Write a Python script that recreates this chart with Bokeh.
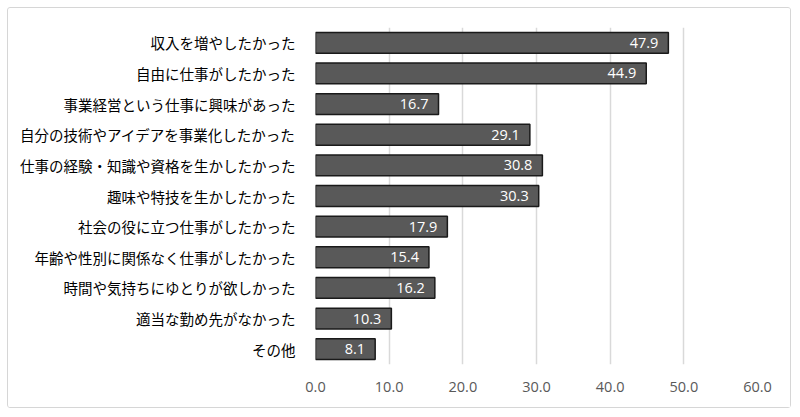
from bokeh.plotting import figure
from bokeh.models import ColumnDataSource, FactorRange, Range1d, FixedTicker, LabelSet, CustomJSTickFormatter
from bokeh.embed import file_html
from bokeh.resources import INLINE
from bokeh.core.properties import value

categories = [
    "収入を増やしたかった",
    "自由に仕事がしたかった",
    "事業経営という仕事に興味があった",
    "自分の技術やアイデアを事業化したかった",
    "仕事の経験・知識や資格を生かしたかった",
    "趣味や特技を生かしたかった",
    "社会の役に立つ仕事がしたかった",
    "年齢や性別に関係なく仕事がしたかった",
    "時間や気持ちにゆとりが欲しかった",
    "適当な勤め先がなかった",
    "その他",
]
values = [47.9, 44.9, 16.7, 29.1, 30.8, 30.3, 17.9, 15.4, 16.2, 10.3, 8.1]
x_ticks = [0, 10, 20, 30, 40, 50, 60]

source = ColumnDataSource(dict(
    cat=categories,
    val=values,
    lab=[f"{v:.1f}" for v in values],
))

p = figure(
    width=784, height=401,
    y_range=FactorRange(*list(reversed(categories))),
    x_range=Range1d(0, 60),
    output_backend="svg", toolbar_location=None,
    min_border_left=307, min_border_right=35,
    min_border_top=19, min_border_bottom=45,
    styles={"margin": "7px 0 0 7px", "border": "1px solid #d6d6d6", "border-radius": "3px"},
)
p.outline_line_color = None

p.hbar(y="cat", right="val", left=0, height=0.68, source=source,
       fill_color="#595959", line_color="#1a1a1a", line_width=1.5)

labels = LabelSet(x="val", y="cat", text="lab", source=source,
                  x_offset=-10, text_align="right", text_baseline="middle",
                  text_color="white", text_font_size="14.5px",
                  text_font=value("Open Sans"))
p.add_layout(labels)

p.xaxis.ticker = FixedTicker(ticks=x_ticks)
p.xaxis.formatter = CustomJSTickFormatter(code="return tick.toFixed(1);")
p.xaxis.axis_line_color = None
p.xaxis.major_tick_line_color = None
p.xaxis.minor_tick_line_color = None
p.xaxis.major_label_text_font_size = "14.5px"
p.xaxis.major_label_text_color = "#595959"
p.xaxis.major_label_text_font = "Open Sans"
p.xaxis.major_label_standoff = 11

p.yaxis.axis_line_color = None
p.yaxis.major_tick_line_color = None
p.yaxis.minor_tick_line_color = None
p.yaxis.major_label_text_font_size = "14.5px"
p.yaxis.major_label_text_color = "#000000"
p.yaxis.major_label_text_font = "Noto Sans CJK JP"
p.yaxis.major_label_standoff = 14

p.ygrid.grid_line_color = None
p.xgrid.grid_line_color = "#d9d9d9"
p.xgrid.grid_line_width = 1.5

open("out.html", "w").write(file_html(p, INLINE))
